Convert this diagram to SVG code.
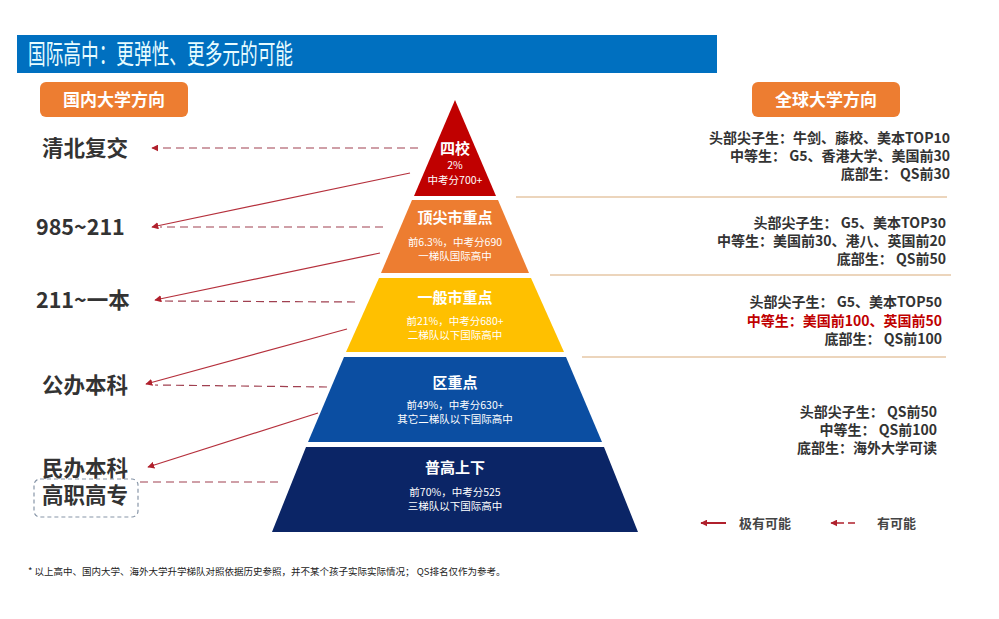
<svg xmlns="http://www.w3.org/2000/svg" width="999" height="619" viewBox="0 0 999 619">
<style>
text{font-family:"Noto Sans CJK SC","Liberation Sans",sans-serif}
.lbl{font-size:21.5px;font-weight:bold;fill:#333}
.rt{font-size:14px;font-weight:bold;fill:#333;text-anchor:end}
.tt{fill:#fff;text-anchor:middle;font-weight:bold;font-size:15px}
.ts{fill:#fff;text-anchor:middle;font-size:10.5px}
.sep{stroke:#E6C7A6;stroke-width:1.5}
.solid{stroke:#B5303C;stroke-width:1.2;fill:none;marker-end:url(#ah)}
.dash{stroke:#A04050;stroke-width:1.2;fill:none;stroke-dasharray:8 5}
.dashA{marker-end:url(#ah)}
</style>
<defs>
<marker id="ah" viewBox="0 0 10 10" refX="9" refY="5" markerWidth="7" markerHeight="7" orient="auto" markerUnits="userSpaceOnUse"><path d="M0,0 L10,5 L0,10 z" fill="#B0202C"/></marker>
</defs>
<rect width="999" height="619" fill="#fff"/>
<g id="header">
<rect x="17" y="35" width="700" height="38" fill="#0070C0"/>
<text x="28" y="64" font-size="27" fill="#E8FCFF" textLength="265" lengthAdjust="spacingAndGlyphs">国际高中：更弹性、更多元的可能</text>
</g>
<g id="badge-left"><rect x="40" y="82" width="148" height="35" rx="6" fill="#ED7D31"/><text x="114" y="106" text-anchor="middle" font-size="17" font-weight="bold" fill="#fff">国内大学方向</text></g>
<g id="badge-right"><rect x="752" y="82" width="148" height="35" rx="6" fill="#ED7D31"/><text x="826" y="106" text-anchor="middle" font-size="17" font-weight="bold" fill="#fff">全球大学方向</text></g>
<g id="tier1"><polygon points="455,100 496,196 414,196" fill="#C00000"/><text class="tt" x="455" y="154" font-size="14">四校</text><text class="ts" x="455" y="169" font-size="10">2%</text><text class="ts" x="455" y="184" font-size="10">中考分700+</text></g>
<g id="tier2"><polygon points="412,200 498,200 529,273 381,273" fill="#ED7D31"/><text class="tt" x="455" y="223">顶尖市重点</text><text class="ts" x="455" y="246">前6.3%，中考分690</text><text class="ts" x="455" y="260">一梯队国际高中</text></g>
<g id="tier3"><polygon points="379,278 531,278 564,352 346,352" fill="#FFC000"/><text class="tt" x="455" y="303">一般市重点</text><text class="ts" x="455" y="325">前21%，中考分680+</text><text class="ts" x="455" y="339">二梯队以下国际高中</text></g>
<g id="tier4"><polygon points="344,357 566,357 602,442 308,442" fill="#0B4EA2"/><text class="tt" x="455" y="388">区重点</text><text class="ts" x="455" y="409">前49%，中考分630+</text><text class="ts" x="455" y="423">其它二梯队以下国际高中</text></g>
<g id="tier5"><polygon points="306,447 604,447 638,532 272,532" fill="#0B2566"/><text class="tt" x="455" y="473">普高上下</text><text class="ts" x="455" y="496">前70%，中考分525</text><text class="ts" x="455" y="510">三梯队以下国际高中</text></g>
<g id="left-labels">
<text class="lbl" x="42" y="156">清北复交</text>
<text class="lbl" x="36" y="235">985~211</text>
<text class="lbl" x="36" y="308">211~一本</text>
<text class="lbl" x="42" y="393">公办本科</text>
<text class="lbl" x="42" y="476">民办本科</text>
<rect x="34" y="479" width="104" height="38" rx="6" fill="none" stroke="#8896A8" stroke-width="1.2" stroke-dasharray="4 3"/>
<text class="lbl" x="42" y="503">高职高专</text>
</g>
<g id="connectors">
<path class="dash dashA" d="M418,148 L152,148"/>
<path class="solid" d="M410,173 L152,227"/>
<path class="dash" d="M383,227 L160,227"/>
<path class="solid" d="M380,253 L155,300"/>
<path class="dash" d="M355,302 L162,301"/>
<path class="solid" d="M347,329 L146,384"/>
<path class="dash" d="M327,387 L155,385"/>
<path class="solid" d="M318,413 L148,467"/>
<path class="dash" d="M278,482 L140,482"/>
<line class="sep" x1="516" y1="197" x2="947" y2="197"/>
<line class="sep" x1="550" y1="275" x2="951" y2="275"/>
<line class="sep" x1="582" y1="357" x2="946" y2="357"/>
</g>
<g id="right-text">
<text class="rt" x="950" y="143">头部尖子生：牛剑、藤校、美本TOP10</text>
<text class="rt" x="950" y="161">中等生： G5、香港大学、美国前30</text>
<text class="rt" x="950" y="179">底部生： QS前30</text>
<text class="rt" x="946" y="228">头部尖子生： G5、美本TOP30</text>
<text class="rt" x="946" y="246">中等生：美国前30、港八、英国前20</text>
<text class="rt" x="946" y="264">底部生： QS前50</text>
<text class="rt" x="942" y="307">头部尖子生： G5、美本TOP50</text>
<text class="rt" x="942" y="326" style="fill:#C00000">中等生：美国前100、英国前50</text>
<text class="rt" x="942" y="344">底部生： QS前100</text>
<text class="rt" x="937" y="417">头部尖子生： QS前50</text>
<text class="rt" x="937" y="435">中等生： QS前100</text>
<text class="rt" x="937" y="453">底部生：海外大学可读</text>
</g>
<g id="legend">
<line x1="726" y1="523" x2="701" y2="523" stroke="#B0202C" stroke-width="2" marker-end="url(#ah)"/>
<text x="739" y="528" font-size="13" font-weight="bold" fill="#444">极有可能</text>
<line x1="855" y1="523" x2="831" y2="523" stroke="#B0202C" stroke-width="1.5" stroke-dasharray="7 4" marker-end="url(#ah)"/>
<text x="877" y="528" font-size="13" font-weight="bold" fill="#444">有可能</text>
</g>
<text x="28" y="575" font-size="9.5" fill="#222">* 以上高中、国内大学、海外大学升学梯队对照依据历史参照，并不某个孩子实际实际情况；  QS排名仅作为参考。</text>
</svg>
